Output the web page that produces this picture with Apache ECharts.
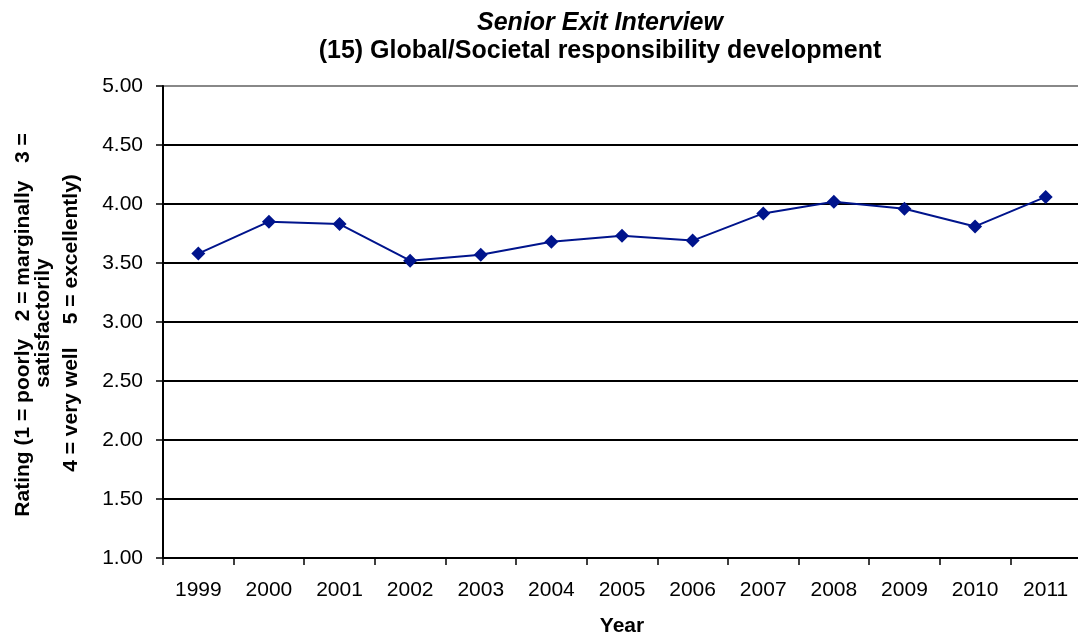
<!DOCTYPE html>
<html>
<head>
<meta charset="utf-8">
<script src="https://cdn.jsdelivr.net/npm/echarts@6/dist/echarts.min.js"></script>
<style>html,body{margin:0;padding:0;background:#fff;}#c{width:1078px;height:637px;}</style>
</head>
<body>
<div id="c"></div>
<script>
const years = ['1999','2000','2001','2002','2003','2004','2005','2006','2007','2008','2009','2010','2011'];
const ratings = [3.58, 3.85, 3.83, 3.52, 3.57, 3.68, 3.73, 3.69, 3.92, 4.02, 3.96, 3.81, 4.06];
const titleLine1 = 'Senior Exit Interview';
const titleLine2 = '(15) Global/Societal responsibility development';
const yNameLine1 = 'Rating (1 = poorly   2 = marginally   3 =';
const yNameLine2 = 'satisfactorily';
const yNameLine3 = '4 = very well    5 = excellently)';
const xAxisName = 'Year';

const FONT = '"Liberation Sans", Arial, sans-serif';
const chart = echarts.init(document.getElementById('c'));
function vtext(txt, x, y) {
  return {type: 'text', x: x, y: y, rotation: Math.PI / 2,
    style: {text: txt, x: 0, y: 0, font: 'bold 21px ' + FONT, fill: '#000', textAlign: 'center', textVerticalAlign: 'middle'}};
}
chart.setOption({
  animation: false,
  backgroundColor: '#fff',
  graphic: [
    {type: 'text', x: 600, y: 23, style: {text: titleLine1, x: 0, y: 0, font: 'italic bold 25px ' + FONT, fill: '#000', textAlign: 'center', textVerticalAlign: 'middle'}},
    {type: 'text', x: 600, y: 51, style: {text: titleLine2, x: 0, y: 0, font: 'bold 25px ' + FONT, fill: '#000', textAlign: 'center', textVerticalAlign: 'middle'}},
    vtext(yNameLine1, 23, 325),
    vtext(yNameLine2, 43, 323),
    vtext(yNameLine3, 71, 323)
  ],
  grid: {left: 163, top: 86, width: 918, height: 472, containLabel: false, outerBoundsMode: 'none'},
  xAxis: {
    type: 'category',
    data: years,
    boundaryGap: true,
    name: xAxisName,
    nameLocation: 'middle',
    nameGap: 58,
    nameTextStyle: {fontFamily: FONT, fontWeight: 'bold', fontSize: 21, color: '#000'},
    axisLine: {lineStyle: {color: '#000', width: 2}},
    axisTick: {show: true, interval: 0, length: 7, lineStyle: {color: '#000', width: 1.5}},
    axisLabel: {interval: 0, fontFamily: FONT, fontSize: 21, color: '#000', margin: 22},
    splitLine: {show: false}
  },
  yAxis: {
    type: 'value',
    min: 1, max: 5, interval: 0.5,
    axisLine: {show: true, lineStyle: {color: '#000', width: 2}},
    axisTick: {show: true, length: 7, lineStyle: {color: '#000', width: 1.5}},
    axisLabel: {fontFamily: FONT, fontSize: 21, color: '#000', margin: 20, formatter: v => v.toFixed(2)},
    splitLine: {show: true, lineStyle: {color: ['#000','#000','#000','#000','#000','#000','#000','#000','#888'], width: 2}}
  },
  series: [{
    type: 'line',
    data: ratings,
    symbol: 'diamond',
    symbolSize: 14,
    lineStyle: {color: '#00148C', width: 2},
    itemStyle: {color: '#00148C'}
  }]
});
</script>
</body>
</html>
